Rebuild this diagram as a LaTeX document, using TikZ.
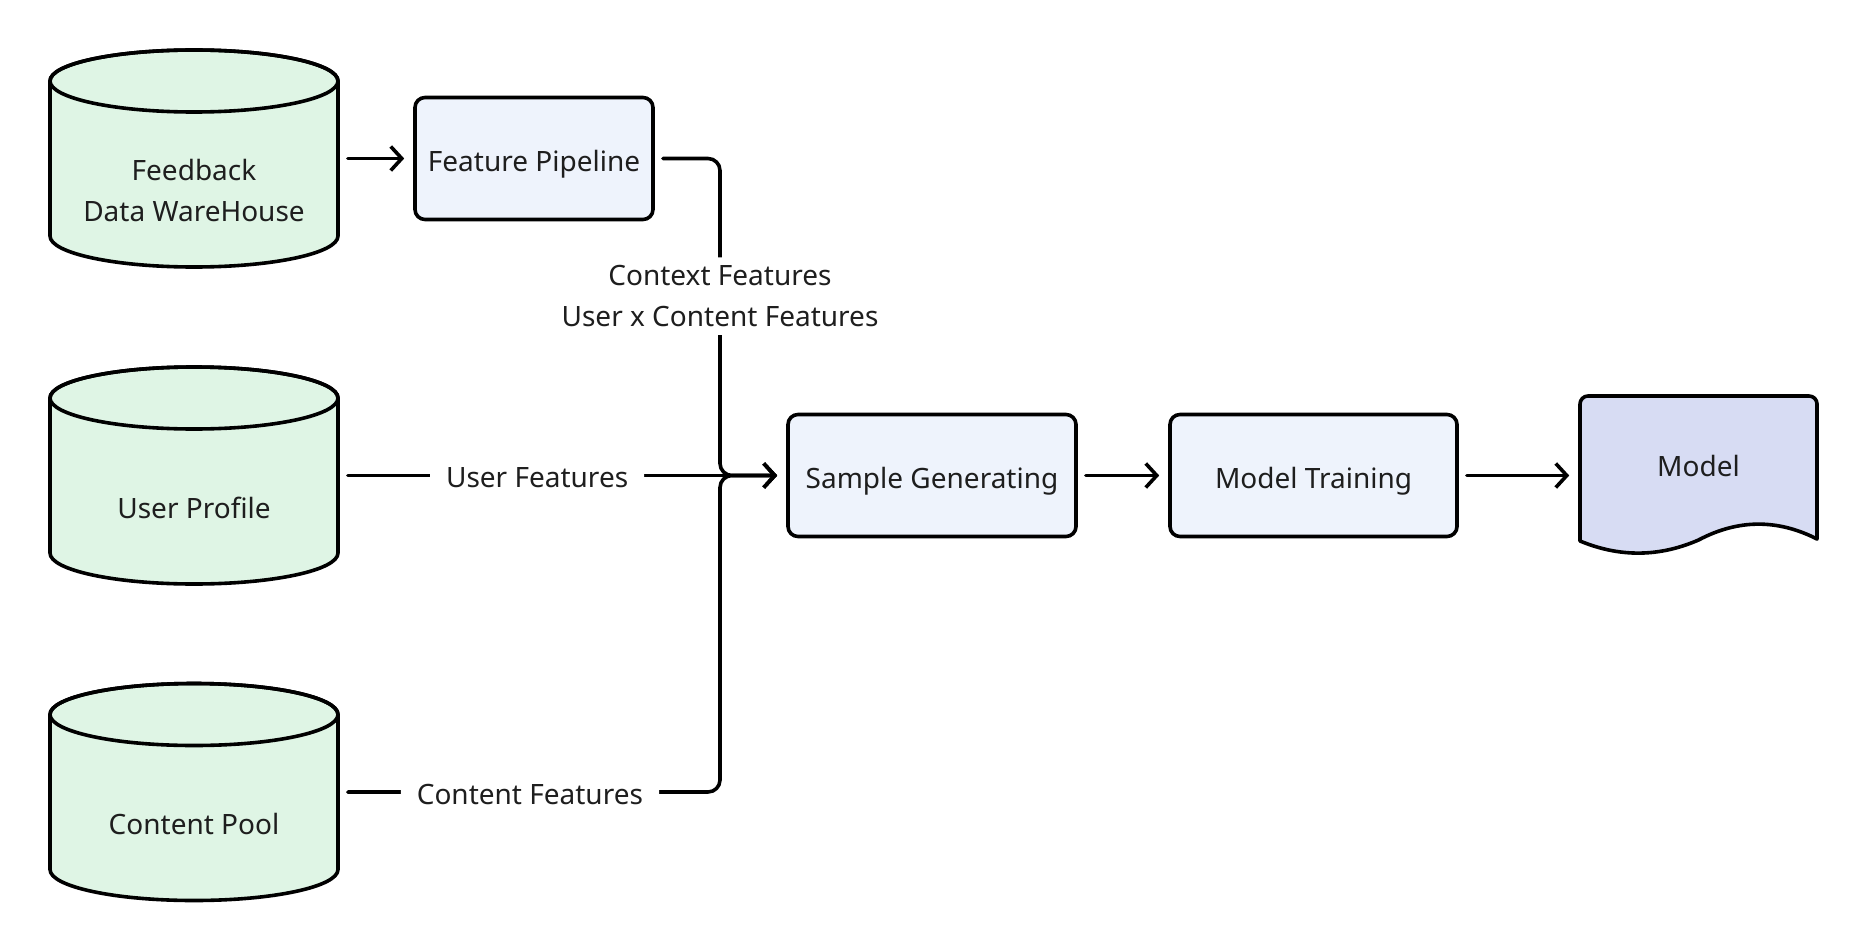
\documentclass[tikz,border=0pt]{standalone}
\usepackage{fontspec}
\setmainfont{Noto Sans}
\usetikzlibrary{arrows.meta}
\definecolor{dbgreen}{HTML}{DFF5E5}
\definecolor{stepblue}{HTML}{EEF3FC}
\definecolor{docblue}{HTML}{D7DCF3}
\definecolor{inkgray}{HTML}{1E1E1E}
\begin{document}
\begin{tikzpicture}[x=0.5pt, y=0.5pt, line width=1.8pt, line join=round, line cap=round,
    font=\fontsize{14}{20.5}\selectfont, text=inkgray,
    box/.style={draw, fill=stepblue, rounded corners=5pt, minimum height=61pt, inner sep=0pt,
        text height=13pt, text depth=0pt},
    dbbox/.style={minimum width=144pt, minimum height=108.5pt, inner sep=0pt},
    dbtext/.style={align=center},
    lbl/.style={fill=white, inner xsep=8pt, inner ysep=4pt, align=center},
    link/.style={-{Straight Barb[length=5.5pt,width=12pt]}, rounded corners=6pt, shorten <=4pt, shorten >=4.5pt}]
    \useasboundingbox (0,0) rectangle (1866,950);
    \def\rx{144} \def\ry{31} % ellipse of the cylinders
    % ============= DATABASES
    \newcommand{\database}[4]{
        \def\x{#1} \def\y{#2}
        \draw[fill=dbgreen] (\x-\rx, \y+77.5) -- (\x-\rx, \y-77.5)
            arc[start angle=180, end angle=360, x radius=\rx, y radius=\ry]
            -- (\x+\rx, \y+77.5)
            arc[start angle=0, end angle=180, x radius=\rx, y radius=\ry] -- cycle;
        \draw (\x, \y+77.5) ellipse [x radius=\rx, y radius=\ry];
        \node[dbbox] (#3) at (\x, \y) {};
        \node[dbtext] (#3-txt) at (\x, \y-32) {#4};
    }
    \database{194}{791.5}{fb}{Feedback\\Data WareHouse}
    \database{194}{474.5}{up}{User Profile}
    \database{194}{158}{cp}{Content Pool}
    % ============= STEPS
    \node[box, minimum width=119pt] (fp) at (534, 791.5) {Feature Pipeline};
    \node[box, minimum width=144pt] (sg) at (932, 474.5) {Sample Generating};
    \node[box, minimum width=143.5pt] (mt) at (1313.5, 474.5) {Model Training};
    % ============= MODEL (document)
    \node[minimum width=118.5pt, minimum height=78.5pt, inner sep=0pt] (mdl) at (1698.5, 474.5) {};
    \draw[fill=docblue] (1580,409) -- (1580,546) arc[start angle=180, end angle=90, radius=8]
        -- (1809,554) arc[start angle=90, end angle=0, radius=8] -- (1817,411)
        .. controls (1777.7,431) and (1738.2,431) .. (1698.5,410)
        .. controls (1658.8,392.7) and (1619.3,392.7) .. (1580,409) -- cycle;
    \node (mdl-txt) at (1698.5, 484) {Model};
    %---
    \coordinate (jn) at (720, 474.5);
    \draw[link] (fb.east) -- (fp.west);
    \draw[link] (fp.east) -- (fp.east -| jn) -- node[lbl, pos=0.434] {Context Features\\User x Content Features} (jn) -- (sg.west);
    \draw[link] (up.east) -- node[lbl, pos=0.442, yshift=-1pt] {User Features} (sg.west);
    \draw[link] (cp.east) -- node[lbl, yshift=-1pt] {Content Features} (cp.east -| jn) -- (jn) -- (sg.west);
    \draw[link] (sg.east) -- (mt.west);
    \draw[link] (mt.east) -- (mdl.west);
\end{tikzpicture}
\end{document}
